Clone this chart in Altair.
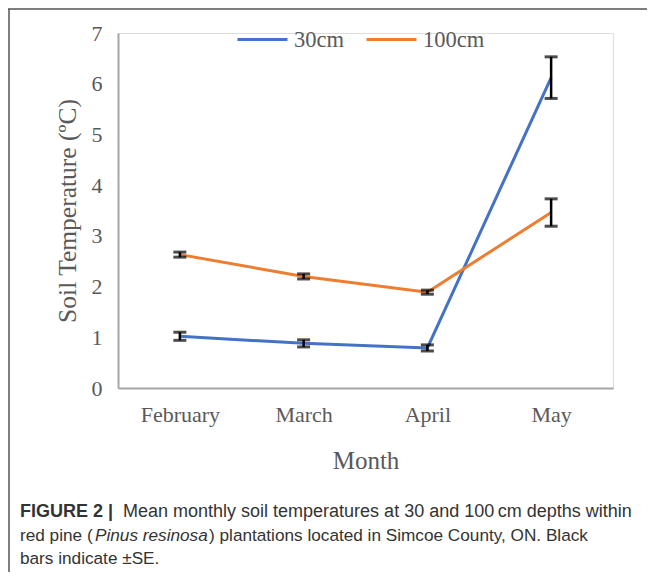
import altair as alt
import pandas as pd

months = ["February", "March", "April", "May"]
depths = ["30cm", "100cm"]
mean_30 = [1.02, 0.88, 0.79, 6.12]
se_30 = [0.08, 0.07, 0.06, 0.41]
mean_100 = [2.63, 2.20, 1.89, 3.46]
se_100 = [0.05, 0.05, 0.04, 0.27]
y_ticks = [0, 1, 2, 3, 4, 5, 6, 7]

caption_bold = "FIGURE 2 |"
caption_line1 = "Mean monthly soil temperatures at 30 and 100\u2009cm depths within"
caption_line2a = "red pine ("
caption_line2b = "Pinus resinosa"
caption_line2c = ") plantations located in Simcoe County, ON. Black"
caption_line3 = "bars indicate \u00b1SE."

rows = []
for d, means, ses in [("30cm", mean_30, se_30), ("100cm", mean_100, se_100)]:
    for m, v, s in zip(months, means, ses):
        rows.append({"Month": m, "Depth": d, "Temp": v, "lo": v - s, "hi": v + s})
df = pd.DataFrame(rows)

W, H = 495, 355
SERIF = "Liberation Serif"
SANS = "Liberation Sans"
GREY = "#595959"

xenc = alt.X("Month:N", sort=months, scale=alt.Scale(type="point", padding=0.5),
             axis=alt.Axis(title="Month", labelFont=SERIF, labelFontSize=22, labelColor=GREY,
                           titleFont=SERIF, titleFontSize=25, titleColor=GREY, titleFontWeight="normal",
                           labelPadding=16, titlePadding=23, ticks=False, domainColor="#a6a6a6",
                           domainWidth=2, labelAngle=0, grid=False))
yscale = alt.Scale(domain=[0, 7], nice=False, zero=True)

lines = alt.Chart(df).mark_line(strokeWidth=3).encode(
    x=xenc,
    y=alt.Y("Temp:Q", scale=yscale,
            axis=alt.Axis(title="Soil Temperature (\u00baC)", values=y_ticks, labelFont=SERIF,
                          labelFontSize=22, labelColor=GREY, titleFont=SERIF, titleFontSize=25.5,
                          titleColor=GREY, titleFontWeight="normal", ticks=False, grid=False,
                          domainColor="#a6a6a6", domainWidth=2, labelPadding=16, titlePadding=11)),
    color=alt.Color("Depth:N", sort=depths,
                    scale=alt.Scale(domain=depths, range=["#4472C4", "#ED7D31"]),
                    legend=alt.Legend(title=None, orient="none", legendX=118, legendY=-20,
                                      direction="horizontal", symbolType="stroke", symbolSize=2500,
                                      symbolStrokeWidth=3, labelFont=SERIF, labelFontSize=22.5,
                                      labelColor=GREY, labelOffset=5, columnPadding=16)),
)

err = alt.Chart(df).mark_rule(color="black", strokeWidth=2.5).encode(
    x=alt.X("Month:N", sort=months), y=alt.Y("lo:Q", scale=yscale), y2="hi:Q")
cap_lo = alt.Chart(df).mark_tick(color="black", size=13, thickness=3).encode(
    x=alt.X("Month:N", sort=months), y=alt.Y("lo:Q", scale=yscale))
cap_hi = alt.Chart(df).mark_tick(color="black", size=13, thickness=3).encode(
    x=alt.X("Month:N", sort=months), y=alt.Y("hi:Q", scale=yscale))

def txt(s, x, y, size=18, weight="normal", style="normal"):
    return alt.Chart(pd.DataFrame({"t": [s]})).mark_text(
        align="left", baseline="alphabetic", font=SANS, fontSize=size, color="#333333",
        fontWeight=weight, fontStyle=style).encode(
        x=alt.value(x), y=alt.value(y), text="t:N")

cap = (txt(caption_bold, -98, 484, weight="bold")
       + txt(caption_line1, 5, 484)
       + txt(caption_line2a, -98, 508, size=17.2)
       + txt(caption_line2b, -23, 508, size=17.2, style="italic")
       + txt(caption_line2c, 91, 508, size=17.2)
       + txt(caption_line3, -98, 531, size=17.2))

border_top = alt.Chart(pd.DataFrame({"a": [0]})).mark_rule(color="#555555", strokeWidth=1.5).encode(
    x=alt.value(-110), x2=alt.value(W + 40), y=alt.value(-24))
border_left = alt.Chart(pd.DataFrame({"a": [0]})).mark_rule(color="#555555", strokeWidth=1.5).encode(
    x=alt.value(-109), y=alt.value(-24), y2=alt.value(H + 200))

chart = alt.layer(border_top, border_left, lines, err, cap_lo, cap_hi, cap).properties(
    width=W, height=H,
    autosize=alt.AutoSizeParams(type="none"),
    padding={"left": 110, "top": 25, "right": 34, "bottom": 184},
).configure_view(stroke=None).configure(background="white")

chart.save("out.html", embed_options={"renderer": "svg", "actions": False})
